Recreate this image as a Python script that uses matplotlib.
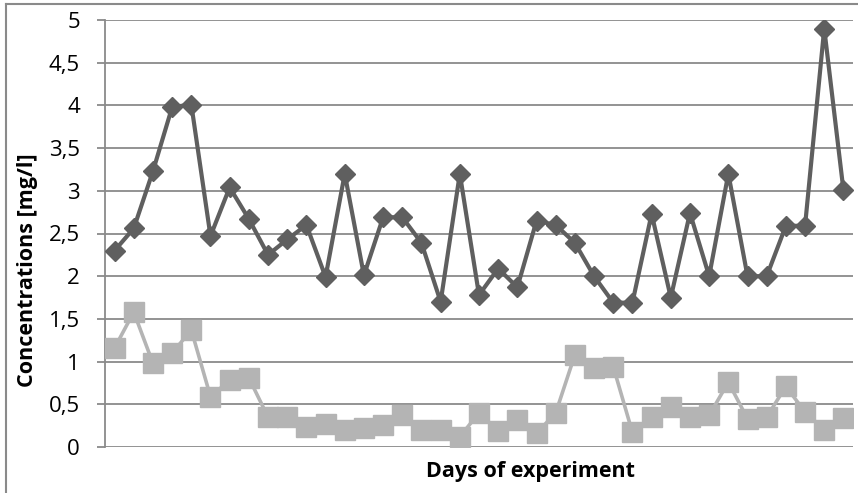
import matplotlib
matplotlib.use("Agg")
import matplotlib.pyplot as plt
from matplotlib.lines import Line2D
from matplotlib.ticker import FuncFormatter

# Values (39 days)
upper_series = [2.30, 2.56, 3.23, 3.98, 4.01, 2.47, 3.04, 2.67, 2.25, 2.43,
                2.60, 1.99, 3.20, 2.01, 2.69, 2.69, 2.39, 1.70, 3.20, 1.78,
                2.09, 1.87, 2.65, 2.60, 2.39, 2.00, 1.69, 1.69, 2.73, 1.75,
                2.74, 2.00, 3.20, 2.00, 2.00, 2.59, 2.59, 4.90, 3.01]
lower_series = [1.16, 1.58, 0.98, 1.10, 1.37, 0.59, 0.78, 0.81, 0.35, 0.35,
                0.24, 0.27, 0.20, 0.22, 0.26, 0.37, 0.20, 0.20, 0.12, 0.40,
                0.19, 0.32, 0.16, 0.40, 1.08, 0.92, 0.94, 0.17, 0.35, 0.47,
                0.35, 0.37, 0.76, 0.33, 0.35, 0.71, 0.41, 0.20, 0.34]
y_ticks = [0, 0.5, 1, 1.5, 2, 2.5, 3, 3.5, 4, 4.5, 5]
x_label = "Days of experiment"
y_label = "Concentrations [mg/l]"

plt.rcParams['font.family'] = ['Open Sans', 'DejaVu Sans']

W, H = 858, 493
fig = plt.figure(figsize=(W / 100, H / 100), dpi=100)
ax = fig.add_axes([105 / W, 1 - 447 / H, (853 - 105) / W, (447 - 20) / H])

days = list(range(1, len(upper_series) + 1))
ax.plot(days, upper_series, color='#5f5f5f', lw=3.0, marker='D', ms=10,
        zorder=4)
ax.plot(days, lower_series, color='#b4b4b4', lw=2.6, marker='s', ms=14,
        zorder=3)

ax.set_xlim(0.5, len(days) + 0.5)
ax.set_ylim(0, 5)
ax.set_yticks(y_ticks)
ax.yaxis.set_major_formatter(FuncFormatter(
    lambda v, p: ('%g' % v).replace('.', ',')))
ax.set_xticks([])
ax.grid(axis='y', color='#8a8a8a', lw=1.3)
ax.set_axisbelow(True)
for side in ('top', 'right', 'bottom'):
    ax.spines[side].set_visible(False)
ax.spines['left'].set_color('#8a8a8a')
ax.spines['left'].set_linewidth(1.3)
ax.tick_params(axis='y', length=6, width=1.3, color='#8a8a8a',
               labelsize=16, pad=12)

fig.text(530 / W, 1 - 471 / H, x_label, ha='center', va='center',
         fontsize=15.5, fontweight='bold')
fig.text(28 / W, 1 - 270 / H, y_label, ha='center', va='center',
         rotation=90, fontsize=15.5, fontweight='bold')

# chart area border (left and top edges are visible)
fig.add_artist(Line2D([6 / W, 6 / W], [0, 1 - 4 / H], color='#8a8a8a', lw=1.5))
fig.add_artist(Line2D([6 / W, 1], [1 - 4 / H, 1 - 4 / H], color='#8a8a8a', lw=1.5))

fig.savefig("out.png", dpi=100)
